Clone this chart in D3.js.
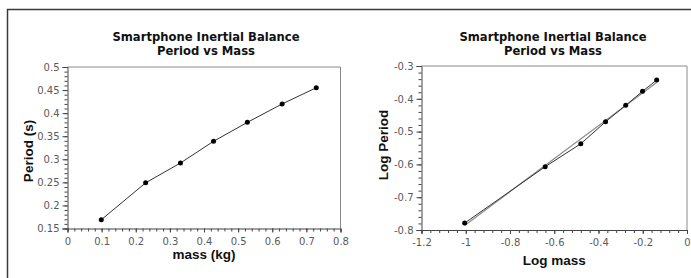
<!DOCTYPE html>
<html>
<head>
<meta charset="utf-8">
<script src="https://cdn.jsdelivr.net/npm/d3@7"></script>
<style>
  html, body { margin: 0; padding: 0; background: #fff; }
  svg { display: block; }
</style>
</head>
<body>
<svg id="chart" width="691" height="278"></svg>
<script>
// ---------------- DATA ----------------
const titleLines = ["Smartphone Inertial Balance", "Period vs Mass"];

// left chart: period vs mass
const mass = [0.099, 0.229, 0.331, 0.428, 0.527, 0.629, 0.729];
const period = [0.169, 0.249, 0.292, 0.339, 0.380, 0.420, 0.455];
const leftXTicks = [0, 0.1, 0.2, 0.3, 0.4, 0.5, 0.6, 0.7, 0.8];
const leftYTicks = [0.15, 0.2, 0.25, 0.3, 0.35, 0.4, 0.45, 0.5];
const leftXLabel = "mass (kg)";
const leftYLabel = "Period (s)";

// right chart: log period vs log mass
const logMass = [-1.005, -0.641, -0.480, -0.368, -0.277, -0.201, -0.137];
const logPeriod = [-0.779, -0.607, -0.537, -0.470, -0.420, -0.377, -0.343];
const fitLogMass = [-1.005, -0.137];
const fitLogPeriod = [-0.786, -0.350];
const rightXTicks = [-1.2, -1, -0.8, -0.6, -0.4, -0.2, 0];
const rightYTicks = [-0.8, -0.7, -0.6, -0.5, -0.4, -0.3];
const rightXLabel = "Log mass";
const rightYLabel = "Log Period";

// ---------------- DRAW ----------------
const svg = d3.select("#chart");
const fmt = v => String(+v.toFixed(2));

// outer frame
svg.append("path")
  .attr("d", "M7.5,278 V9.5 H691")
  .attr("fill", "none").attr("stroke", "#3a3a3a").attr("stroke-width", 1.5);

function minorTicks(domain, step) {
  const out = [];
  const n = Math.round((domain[1] - domain[0]) / step);
  for (let i = 0; i <= n; i++) out.push(+(domain[0] + i * step).toFixed(4));
  return out;
}

function drawChart(cfg) {
  const g = svg.append("g");
  const x = d3.scaleLinear().domain(cfg.xDomain).range(cfg.xRange);
  const y = d3.scaleLinear().domain(cfg.yDomain).range(cfg.yRange);

  // frame top and right
  g.append("path")
    .attr("d", `M${x.range()[0]},${y.range()[1]} H${x.range()[1]} V${y.range()[0]}`)
    .attr("fill", "none").attr("stroke", "#8a8a8a").attr("stroke-width", 1);

  // minor ticks
  const xMinor = g.append("g").attr("transform", `translate(0,${y.range()[0]})`)
    .call(d3.axisBottom(x).tickValues(minorTicks(cfg.xDomain, cfg.xMinorStep)).tickSize(3).tickFormat(""));
  const yMinor = g.append("g").attr("transform", `translate(${x.range()[0]},0)`)
    .call(d3.axisLeft(y).tickValues(minorTicks(cfg.yDomain, cfg.yMinorStep)).tickSize(3).tickFormat(""));
  [xMinor, yMinor].forEach(a => { a.select(".domain").remove(); a.selectAll("line").attr("stroke", "#444"); });

  // major axes
  const xAxis = g.append("g").attr("transform", `translate(0,${y.range()[0]})`)
    .call(d3.axisBottom(x).tickValues(cfg.xTicks).tickSize(4).tickPadding(5).tickFormat(fmt));
  const yAxis = g.append("g").attr("transform", `translate(${x.range()[0]},0)`)
    .call(d3.axisLeft(y).tickValues(cfg.yTicks).tickSize(5).tickPadding(3).tickFormat(fmt));
  [xAxis, yAxis].forEach(a => {
    a.select(".domain").attr("stroke", "#444");
    a.selectAll("line").attr("stroke", "#444");
    a.selectAll("text").attr("font-family", "DejaVu Sans").attr("font-size", 10)
      .attr("fill", "#5a5a5a");
  });

  // fit line (optional)
  if (cfg.fitX) {
    g.append("path")
      .datum(cfg.fitX.map((v, i) => [v, cfg.fitY[i]]))
      .attr("d", d3.line().x(d => x(d[0])).y(d => y(d[1])))
      .attr("fill", "none").attr("stroke", "#8c8c8c").attr("stroke-width", 1.2);
  }

  // data line
  const pts = cfg.xs.map((v, i) => [v, cfg.ys[i]]);
  g.append("path").datum(pts)
    .attr("d", d3.line().x(d => x(d[0])).y(d => y(d[1])))
    .attr("fill", "none").attr("stroke", "#333").attr("stroke-width", 1);
  g.selectAll("circle.pt").data(pts).enter().append("circle")
    .attr("cx", d => x(d[0])).attr("cy", d => y(d[1])).attr("r", 2.5).attr("fill", "#000");

  // title
  const t = g.append("text").attr("text-anchor", "middle")
    .attr("font-family", "DejaVu Sans").attr("font-weight", "bold").attr("font-size", 11.6)
    .attr("fill", "#111");
  titleLines.forEach((line, i) => {
    t.append("tspan").attr("x", cfg.titleX).attr("y", 40.5 + i * 14).text(line);
  });

  // axis labels
  g.append("text").attr("x", (x.range()[0] + x.range()[1]) / 2).attr("y", cfg.xLabelY)
    .attr("text-anchor", "middle").attr("font-family", "Liberation Sans").attr("font-weight", "bold")
    .attr("font-size", 13.5).attr("fill", "#111").text(cfg.xLabel);
  g.append("text")
    .attr("transform", `translate(${cfg.yLabelX},${cfg.yLabelY}) rotate(-90)`)
    .attr("text-anchor", "middle").attr("font-family", "Liberation Sans").attr("font-weight", "bold")
    .attr("font-size", 13.5).attr("fill", "#111").text(cfg.yLabel);
}

drawChart({
  xs: mass, ys: period,
  xDomain: [0, 0.8], xRange: [67.5, 340.5],
  yDomain: [0.15, 0.5], yRange: [228.5, 67],
  xTicks: leftXTicks, yTicks: leftYTicks,
  xMinorStep: 0.02, yMinorStep: 0.01,
  titleX: 206, xLabel: leftXLabel, yLabel: leftYLabel,
  xLabelY: 258.5, yLabelX: 33, yLabelY: 151
});

drawChart({
  xs: logMass, ys: logPeriod,
  fitX: fitLogMass, fitY: fitLogPeriod,
  xDomain: [-1.2, 0], xRange: [421.5, 687],
  yDomain: [-0.8, -0.3], yRange: [230, 66],
  xTicks: rightXTicks, yTicks: rightYTicks,
  xMinorStep: 0.04, yMinorStep: 0.02,
  titleX: 553, xLabel: rightXLabel, yLabel: rightYLabel,
  xLabelY: 264.5, yLabelX: 388, yLabelY: 145
});
</script>
</body>
</html>
